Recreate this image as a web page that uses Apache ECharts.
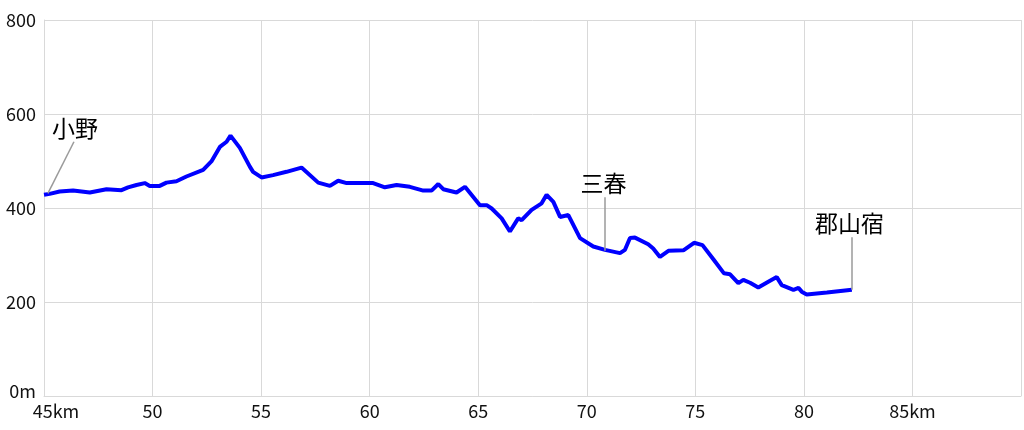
<!DOCTYPE html>
<html>
<head>
<meta charset="utf-8">
<script src="https://cdn.jsdelivr.net/npm/echarts@6/dist/echarts.min.js"></script>
<style>
  html, body { margin: 0; padding: 0; background: #fff; }
  #chart { width: 1024px; height: 430px; }
</style>
</head>
<body>
<div id="chart"></div>
<script>
// 距離 (km)
const distKm = [
  45.00, 45.26, 45.72, 46.34, 47.11, 47.88, 48.57, 48.87, 49.26, 49.64,
  49.87, 50.33, 50.64, 51.10, 51.56, 52.33, 52.71, 53.10, 53.41, 53.59,
  54.02, 54.48, 54.63, 55.02, 55.55, 56.17, 56.86, 57.63, 58.17, 58.55,
  58.94, 59.55, 60.16, 60.70, 61.24, 61.85, 62.47, 62.85, 63.16, 63.39,
  64.00, 64.39, 65.08, 65.39, 65.62, 66.08, 66.46, 66.84, 67.00, 67.46,
  67.92, 68.15, 68.46, 68.77, 69.15, 69.69, 70.30, 70.84, 71.53, 71.76,
  71.99, 72.22, 72.83, 73.06, 73.37, 73.76, 74.45, 74.94, 75.33, 75.83,
  76.32, 76.60, 76.98, 77.21, 77.52, 77.90, 78.36, 78.75, 78.98, 79.52,
  79.75, 79.90, 80.13, 81.06, 82.21
];
// 標高 (m)
const elevM = [
  428, 430, 435, 437, 433, 440, 438, 444, 449, 453,
  447, 447, 454, 457, 467, 481, 499, 530, 541, 554,
  528, 488, 477, 465, 470, 477, 486, 454, 447, 458,
  453, 453, 453, 444, 449, 445, 437, 437, 451, 440,
  433, 445, 406, 406, 399, 378, 350, 378, 374, 396,
  410, 428, 413, 381, 385, 336, 318, 311, 304, 311,
  336, 337, 323, 314, 296, 309, 310, 326, 321, 291,
  261, 259, 240, 247, 241, 231, 243, 253, 236, 226,
  230, 222, 216, 220, 226
];
// 地名ラベル [km, m]
const placeNames = ["小野", "三春", "郡山宿"];
const placeLabelPos = [[46.43, 570], [70.77, 453], [82.10, 368]];
// 引き出し線 [[km, m], [km, m]]
const leaderLines = [
  [[45.18, 431], [46.38, 541]],
  [[70.81, 309], [70.81, 423]],
  [[82.21, 226], [82.21, 338]]
];
const xTicks = [45, 50, 55, 60, 65, 70, 75, 80, 85];
const yTicks = [0, 200, 400, 600, 800];

const FONT = '"Noto Sans CJK JP", "Noto Sans", sans-serif';
const gridColor = "#d9d9d9";

const chart = echarts.init(document.getElementById("chart"));

const option = {
  animation: false,
  grid: {
    left: 44,
    right: 3,
    top: 20,
    bottom: 34,
    containLabel: false,
    outerBoundsMode: "none",
  },
  xAxis: {
    type: "value",
    min: 45,
    max: 90,
    interval: 5,
    axisLine: { show: true, lineStyle: { color: gridColor, width: 1 } },
    axisTick: { show: false },
    splitLine: { show: true, lineStyle: { color: gridColor, width: 1 } },
    axisLabel: {
      margin: 6,
      fontFamily: FONT,
      fontSize: 18,
      color: "#111",
      showMaxLabel: false,
      formatter: (v) => {
        if (v === xTicks[0]) return "{first|" + v + "km}";
        if (v === xTicks[xTicks.length - 1]) return v + "km";
        if (xTicks.indexOf(v) >= 0) return String(v);
        return "";
      },
      rich: {
        first: { fontFamily: FONT, fontSize: 18, color: "#111", padding: [0, 0, 0, 24] },
      },
    },
  },
  yAxis: {
    type: "value",
    min: 0,
    max: 800,
    interval: 200,
    axisLine: { show: true, lineStyle: { color: gridColor, width: 1 } },
    axisTick: { show: false },
    splitLine: { show: true, lineStyle: { color: gridColor, width: 1 } },
    axisLabel: {
      margin: 8,
      fontFamily: FONT,
      fontSize: 18,
      color: "#111",
      formatter: (v) => (v === yTicks[0] ? "{zero|0m}" : String(v)),
      rich: {
        zero: { fontFamily: FONT, fontSize: 18, color: "#111", padding: [0, 0, 10, 0] },
      },
    },
  },
  series: [
    {
      type: "line",
      data: distKm.map((d, i) => [d, elevM[i]]),
      smooth: false,
      showSymbol: false,
      lineStyle: { color: "#0000ff", width: 4 },
      z: 3,
      markLine: {
        silent: true,
        symbol: "none",
        label: { show: false },
        lineStyle: { color: "#9a9a9a", width: 1.5, type: "solid" },
        data: leaderLines.map((l) => [{ coord: l[0] }, { coord: l[1] }]),
      },
      markPoint: {
        silent: true,
        symbol: "circle",
        symbolSize: 0,
        label: {
          show: true,
          position: "inside",
          fontFamily: FONT,
          fontSize: 23,
          color: "#000",
          formatter: "{b}",
        },
        data: placeNames.map((n, i) => ({ name: n, coord: placeLabelPos[i] })),
      },
    },
  ],
};

chart.setOption(option);
</script>
</body>
</html>
